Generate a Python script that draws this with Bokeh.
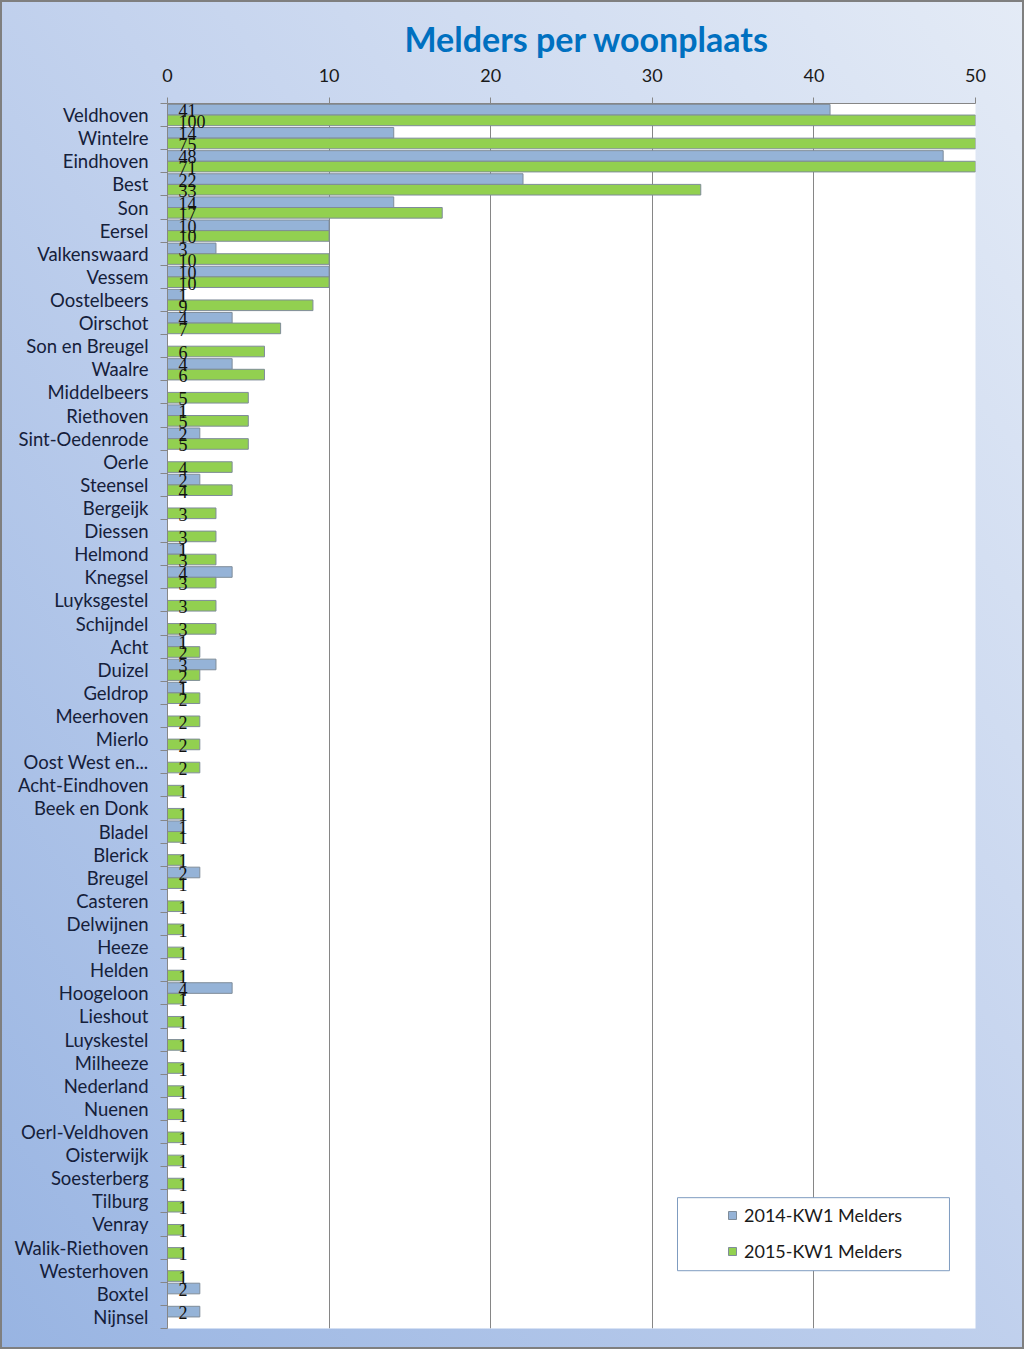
from bokeh.plotting import figure
from bokeh.models import (ColumnDataSource, FixedTicker, Range1d, Legend, LegendItem,
                          BoxAnnotation)
from bokeh.transform import dodge
from bokeh.embed import file_html
from bokeh.resources import INLINE

places = ["Veldhoven", "Wintelre", "Eindhoven", "Best", "Son", "Eersel", "Valkenswaard",
          "Vessem", "Oostelbeers", "Oirschot", "Son en Breugel", "Waalre", "Middelbeers",
          "Riethoven", "Sint-Oedenrode", "Oerle", "Steensel", "Bergeijk", "Diessen",
          "Helmond", "Knegsel", "Luyksgestel", "Schijndel", "Acht", "Duizel", "Geldrop",
          "Meerhoven", "Mierlo", "Oost West en...", "Acht-Eindhoven", "Beek en Donk",
          "Bladel", "Blerick", "Breugel", "Casteren", "Delwijnen", "Heeze", "Helden",
          "Hoogeloon", "Lieshout", "Luyskestel", "Milheeze", "Nederland", "Nuenen",
          "Oerl-Veldhoven", "Oisterwijk", "Soesterberg", "Tilburg", "Venray",
          "Walik-Riethoven", "Westerhoven", "Boxtel", "Nijnsel"]

melders_2014 = [41, 14, 48, 22, 14, 10, 3, 10, 1, 4, None, 4, None, 1, 2, None, 2, None, None,
                1, 4, None, None, 1, 3, 1, None, None, None, None, None, 1, None, 2, None, None,
                None, None, 4, None, None, None, None, None, None, None, None, None, None,
                None, None, 2, 2]

melders_2015 = [100, 75, 71, 33, 17, 10, 10, 10, 9, 7, 6, 6, 5, 5, 5, 4, 4, 3, 3, 3, 3, 3, 3,
                2, 2, 2, 2, 2, 2, 1, 1, 1, 1, 1, 1, 1, 1, 1, 1, 1, 1, 1, 1, 1, 1, 1, 1, 1, 1,
                1, 1, None, None]

x_ticks = [0, 10, 20, 30, 40, 50]
series_names = ["2014-KW1 Melders", "2015-KW1 Melders"]

n = len(places)
pos = [n - 1 - i for i in range(n)]


def make_source(vals):
    ys, xs, labels = [], [], []
    for i, v in enumerate(vals):
        if v is None:
            continue
        ys.append(pos[i])
        xs.append(v)
        labels.append(str(v))
    return ColumnDataSource(dict(y=ys, right=xs, label=labels))


src14 = make_source(melders_2014)
src15 = make_source(melders_2015)

p = figure(width=1024, height=1349, x_range=Range1d(0, 50), y_range=Range1d(-0.5, n - 0.5),
           x_axis_location="above", output_backend="svg", toolbar_location=None,
           title="Melders per woonplaats",
           min_border_left=167, min_border_right=49, min_border_top=103, min_border_bottom=21)

p.styles = {"background-image": "linear-gradient(to top right, #98B4E2 0%, #C4D3EE 55%, #E4EBF6 100%)",
            "box-shadow": "inset 0 0 0 2px #7F7F7F"}
p.border_fill_color = None
p.background_fill_color = "white"
p.outline_line_color = None

p.title.text_font = "Lato"
p.title.text_font_style = "bold"
p.title.text_font_size = "34px"
p.title.text_color = "#0070C0"
p.title.align = "left"
p.title.offset = 237
p.title.standoff = 14

blue = "#95B3D7"
green = "#92D050"
edge = "#7F8C99"

r14 = p.hbar(y=dodge("y", 0.23), left=0, right="right", height=0.46, source=src14,
             fill_color=blue, line_color=edge, line_width=1)
r15 = p.hbar(y=dodge("y", -0.23), left=0, right="right", height=0.46, source=src15,
             fill_color=green, line_color=edge, line_width=1)

for src, off in ((src14, 0.23), (src15, -0.23)):
    p.text(x=0, y=dodge("y", off), text="label", source=src, x_offset=11, y_offset=1,
           text_align="left", text_baseline="middle", text_font="Lato",
           text_font_size="18px", text_color="#111111")

# axes
p.xaxis.ticker = FixedTicker(ticks=x_ticks)
p.xaxis.axis_line_color = "#868686"
p.xaxis.major_tick_line_color = "#868686"
p.xaxis.major_tick_in = 0
p.xaxis.major_tick_out = 6
p.xaxis.minor_tick_line_color = None
p.xaxis.major_label_standoff = 16
p.xaxis.major_label_text_font = "Lato"
p.xaxis.major_label_text_font_size = "18px"
p.xaxis.major_label_text_color = "#1A1A1A"

p.yaxis.ticker = FixedTicker(ticks=pos, minor_ticks=[k + 0.5 for k in range(-1, n)])
p.yaxis.major_label_overrides = {pos[i]: places[i] for i in range(n)}
p.yaxis.axis_line_color = "#868686"
p.yaxis.major_tick_in = 0
p.yaxis.major_tick_out = 0
p.yaxis.minor_tick_in = 0
p.yaxis.minor_tick_out = 7
p.yaxis.minor_tick_line_color = "#868686"
p.yaxis.major_label_standoff = 12
p.yaxis.major_label_text_font = "Lato"
p.yaxis.major_label_text_font_size = "18.5px"
p.yaxis.major_label_text_color = "#15203A"

p.xgrid.ticker = FixedTicker(ticks=x_ticks)
p.xgrid.grid_line_color = "#868686"
p.ygrid.visible = False

# legend frame and legend
box = BoxAnnotation(left=31.56, right=48.39, bottom=2.0, top=5.16,
                    fill_color="white", fill_alpha=1.0, line_color="#7F9CC0", line_width=1,
                    line_alpha=1.0)
p.add_layout(box)

legend = Legend(items=[LegendItem(label=series_names[0], renderers=[r14]),
                       LegendItem(label=series_names[1], renderers=[r15])],
                location=(560, 66), padding=0, margin=0, spacing=14,
                glyph_width=10, glyph_height=10, label_height=22, label_standoff=7,
                border_line_color=None, background_fill_alpha=0,
                label_text_font="Lato", label_text_font_size="18px",
                label_text_color="#1A1A1A")
p.add_layout(legend)

open("out.html", "w").write(file_html(p, INLINE))
